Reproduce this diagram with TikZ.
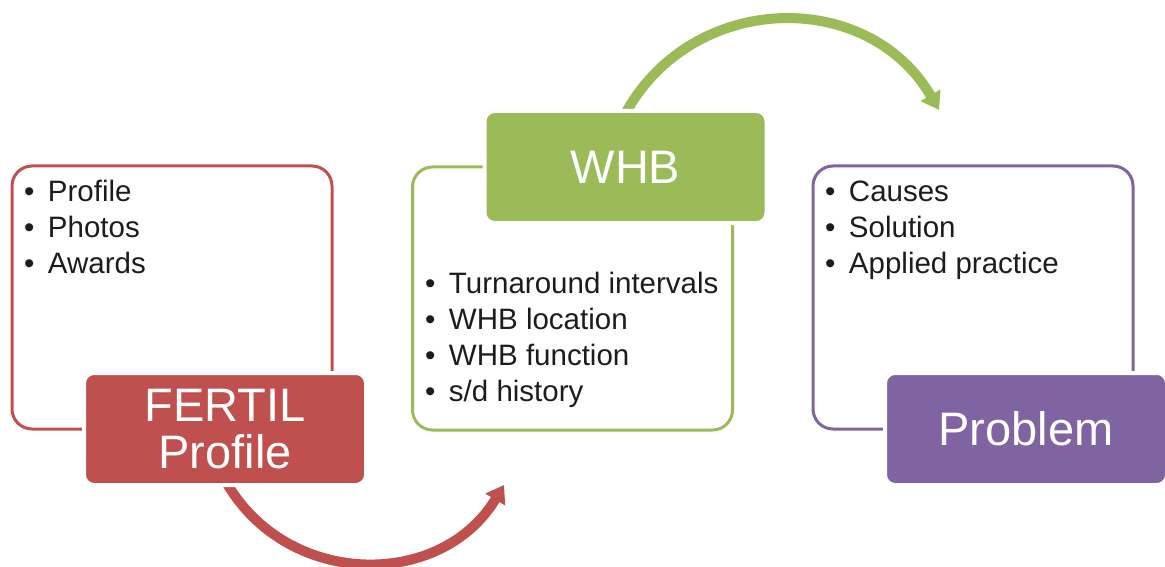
\documentclass[tikz,border=0pt]{standalone}
\usepackage{fontspec}
\setmainfont{Liberation Sans}
\usetikzlibrary{arrows.meta}
\definecolor{cred}{HTML}{C0504D}
\definecolor{cgreen}{HTML}{9BBB59}
\definecolor{cpurple}{HTML}{8064A2}
\definecolor{ctext}{HTML}{1C1C1C}
\newcommand{\bul}{\makebox[24pt][l]{•}}
\begin{document}
\begin{tikzpicture}[x=1pt,y=-1pt,
  outline/.style={draw=#1, line width=3pt, rounded corners=20pt,
    minimum width=320pt, minimum height=263pt, inner sep=0pt, outer sep=0pt},
  titlebox/.style={fill=#1, draw=white, line width=4pt, rounded corners=10pt,
    minimum width=282pt, minimum height=112pt, inner sep=0pt, outer sep=0pt,
    text=white, font=\fontsize{47}{47}\selectfont, align=center},
  item/.style={anchor=base west, inner sep=0pt, outer sep=0pt, text=ctext,
    font=\fontsize{29.5}{36}\selectfont},
  flow/.style={draw=#1, line width=10pt, -{Triangle[width=22pt,length=17pt]}}
]
\useasboundingbox (0,0) rectangle (1165,567);
% outline boxes
\node[outline=cred]    (ro) at (172,297.5) {};
\node[outline=cgreen]  (go) at (572.5,298.5) {};
\node[outline=cpurple] (po) at (973,297.5) {};
% arrows
\coordinate (ra) at (225,480);
\coordinate (rb) at (504,485);
\draw[flow=cred] (ra) to[bend right=60, looseness=1.13] (rb);
\coordinate (ga) at (624,116);
\coordinate (gb) at (939,110);
\draw[flow=cgreen] (ga) to[bend left=61, looseness=1.15] (gb);
% title boxes
\node[titlebox=cred]    (rt) at (225,429) {FERTIL\\Profile};
\node[titlebox=cgreen]  (gt) at (625.5,167) {WHB};
\node[titlebox=cpurple] (pt) at (1026,429) {Problem};
% items
\node[item] (r1) at (24,201.7) {\bul Profile};
\node[item] (r2) at (24,237.7) {\bul Photos};
\node[item] (r3) at (24,273.5) {\bul Awards};
\node[item] (g1) at (425,293.3) {\bul Turnaround intervals};
\node[item] (g2) at (425,329.5) {\bul WHB location};
\node[item] (g3) at (425,365.7) {\bul WHB function};
\node[item] (g4) at (425,401.8) {\bul s/d history};
\node[item] (p1) at (825,201.7) {\bul Causes};
\node[item] (p2) at (825,237.7) {\bul Solution};
\node[item] (p3) at (825,273.5) {\bul Applied practice};
\end{tikzpicture}
\end{document}
